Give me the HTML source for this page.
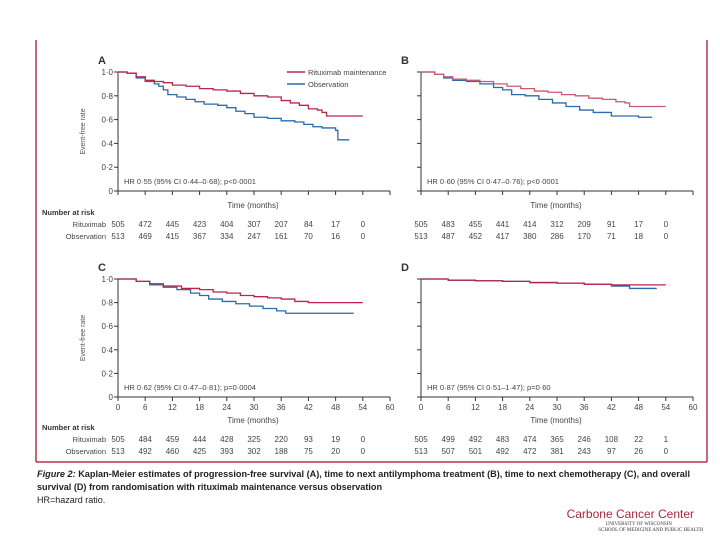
<!DOCTYPE html>
<html><head><meta charset="utf-8"><style>
body{margin:0;background:#fff;}
svg{display:block;font-family:"Liberation Sans",sans-serif;}
</style></head><body>
<svg id="c" width="720" height="540" viewBox="0 0 720 540">
<line x1="36" y1="40" x2="36" y2="462" stroke="#b5344f" stroke-width="1.5"/>
<line x1="707" y1="40" x2="707" y2="462" stroke="#b5344f" stroke-width="1.5"/>
<line x1="36" y1="462" x2="707" y2="462" stroke="#b5344f" stroke-width="1.5"/>
<g id="panels"></g>
<g font-size="9" fill="#222">
<text x="37" y="477" font-weight="bold" textLength="653" lengthAdjust="spacingAndGlyphs"><tspan font-style="italic">Figure 2:</tspan> Kaplan-Meier estimates of progression-free survival (A), time to next antilymphoma treatment (B), time to next chemotherapy (C), and overall</text>
<text x="37" y="490" font-weight="bold" textLength="345" lengthAdjust="spacingAndGlyphs">survival (D) from randomisation with rituximab maintenance versus observation</text>
<text x="37" y="503">HR=hazard ratio.</text>
</g>
<g>
<text x="694" y="518" text-anchor="end" font-size="12" fill="#a8283f">Carbone Cancer Center</text>
<text x="672" y="525" text-anchor="end" font-size="5" font-family="Liberation Serif,serif" fill="#333">UNIVERSITY OF WISCONSIN</text>
<text x="703" y="531" text-anchor="end" font-size="5" font-family="Liberation Serif,serif" fill="#333">SCHOOL OF MEDICINE AND PUBLIC HEALTH</text>
</g>
</svg>
<script>
const months=[0,6,12,18,24,30,36,42,48,54,60];
const yTicks=[0,0.2,0.4,0.6,0.8,1.0];
const yTickLabels=["0","0·2","0·4","0·6","0·8","1·0"];
const aRitT=[0,2,4,6,8,10,12,15,18,21,24,27,30,33,36,38,40,42,44,45,46,54];
const aRitS=[1,0.99,0.96,0.93,0.92,0.91,0.89,0.88,0.86,0.85,0.84,0.82,0.80,0.79,0.76,0.74,0.72,0.69,0.68,0.66,0.63,0.63];
const aObsT=[0,2,4,6,8,9,10,11,13,15,17,19,22,24,26,28,30,33,36,39,41,43,45,48,48.5,51];
const aObsS=[1,0.99,0.95,0.92,0.90,0.88,0.85,0.81,0.79,0.77,0.75,0.73,0.72,0.70,0.67,0.65,0.62,0.61,0.59,0.58,0.56,0.54,0.53,0.51,0.43,0.43];
const bRitT=[0,3,5,7,10,13,16,19,22,25,28,31,34,37,40,43,45,46,54];
const bRitS=[1,0.98,0.96,0.94,0.93,0.92,0.90,0.88,0.86,0.84,0.83,0.81,0.80,0.78,0.77,0.75,0.74,0.71,0.71];
const bObsT=[0,3,5,7,10,13,16,18,20,23,26,29,32,35,38,42,48,51];
const bObsS=[1,0.98,0.95,0.93,0.92,0.90,0.87,0.85,0.81,0.80,0.77,0.74,0.71,0.68,0.66,0.63,0.62,0.62];
const cRitT=[0,4,7,10,14,18,21,24,27,30,33,36,39,42,54];
const cRitS=[1,0.98,0.96,0.94,0.92,0.91,0.89,0.88,0.86,0.85,0.84,0.83,0.81,0.80,0.80];
const cObsT=[0,4,7,10,13,16,18,20,23,26,29,32,35,37,42,52];
const cObsS=[1,0.98,0.95,0.93,0.91,0.88,0.86,0.83,0.81,0.79,0.77,0.75,0.73,0.71,0.71,0.71];
const dRitT=[0,6,12,18,24,30,36,42,54];
const dRitS=[1,0.99,0.985,0.98,0.97,0.965,0.955,0.95,0.95];
const dObsT=[0,6,12,18,24,30,36,42,46,52];
const dObsS=[1,0.99,0.985,0.98,0.97,0.965,0.955,0.94,0.92,0.92];
const aRitN=[505,472,445,423,404,307,207,84,17,0];
const aObsN=[513,469,415,367,334,247,161,70,16,0];
const bRitN=[505,483,455,441,414,312,209,91,17,0];
const bObsN=[513,487,452,417,380,286,170,71,18,0];
const cRitN=[505,484,459,444,428,325,220,93,19,0];
const cObsN=[513,492,460,425,393,302,188,75,20,0];
const dRitN=[505,499,492,483,474,365,246,108,22,1];
const dObsN=[513,507,501,492,472,381,243,97,26,0];
const hrLabels=["HR 0·55 (95% CI 0·44–0·68); p<0·0001","HR 0·60 (95% CI 0·47–0·76); p<0·0001","HR 0·62 (95% CI 0·47–0·81); p=0·0004","HR 0·87 (95% CI 0·51–1·47); p=0·60"];

const NS="http://www.w3.org/2000/svg";
const root=document.getElementById('panels');
function mk(tag,attrs,parent,txt){const e=document.createElementNS(NS,tag);for(const k in attrs)e.setAttribute(k,attrs[k]);if(txt!==undefined)e.textContent=txt;parent.appendChild(e);return e;}
const RED="#b8264a",BLUE="#2a6aad";
const panels=[
 {L:"A",x0:118,y0:191,y1:72,rT:aRitT,rS:aRitS,oT:aObsT,oS:aObsS,rN:aRitN,oN:aObsN,ylab:true,xlab:false,rowLab:true,legend:true,hr:hrLabels[0],rc:RED},
 {L:"B",x0:421,y0:191,y1:72,rT:bRitT,rS:bRitS,oT:bObsT,oS:bObsS,rN:bRitN,oN:bObsN,ylab:false,xlab:false,rowLab:false,legend:false,hr:hrLabels[1],rc:"#c85a70"},
 {L:"C",x0:118,y0:397,y1:279,rT:cRitT,rS:cRitS,oT:cObsT,oS:cObsS,rN:cRitN,oN:cObsN,ylab:true,xlab:true,rowLab:true,legend:false,hr:hrLabels[2],rc:RED},
 {L:"D",x0:421,y0:397,y1:279,rT:dRitT,rS:dRitS,oT:dObsT,oS:dObsS,rN:dRitN,oN:dObsN,ylab:false,xlab:true,rowLab:false,legend:false,hr:hrLabels[3],rc:RED}
];
const W=272;
panels.forEach(p=>{
 const g=mk('g',{},root);
 
 
 const xs=m=>p.x0+m/60*W;
 const ys=v=>p.y0-v*(p.y0-p.y1);
 const t=mk('text',{x:p.x0-20,y:p.y1-8,'font-size':11,'font-weight':'bold',fill:'#333'},g,p.L);
 
 
 const ya=mk('line',{x1:p.x0,y1:p.y1,x2:p.x0,y2:p.y0,stroke:'#333','stroke-width':1},g);
 
 
 const xa=mk('line',{x1:p.x0-4,y1:p.y0,x2:p.x0+W,y2:p.y0,stroke:'#333','stroke-width':1},g);
 
 
 yTicks.forEach((v,i)=>{
  const tk=mk('line',{x1:p.x0-4,y1:ys(v),x2:p.x0,y2:ys(v),stroke:'#333'},g);
  
  
  if(p.ylab){const tl=mk('text',{x:p.x0-5,y:ys(v)+3,'font-size':8,'text-anchor':'end',fill:'#444'},g,yTickLabels[i]);
   
   }
 });
 months.forEach(m=>{
  const tk=mk('line',{x1:xs(m),y1:p.y0,x2:xs(m),y2:p.y0+4,stroke:'#333'},g);
  
  
  if(p.xlab){const tl=mk('text',{x:xs(m),y:p.y0+13,'font-size':8,'text-anchor':'middle',fill:'#444'},g,String(m));
   
   }
 });
 if(p.ylab){const yt=mk('text',{transform:`translate(${p.x0-33},${(p.y0+p.y1)/2}) rotate(-90)`,'font-size':7,'text-anchor':'middle',fill:'#555'},g,'Event-free rate');
  
  }
 const xt=mk('text',{x:p.x0+W/2-1,y:p.y0+(p.xlab?26:17),'font-size':8,'text-anchor':'middle',fill:'#444'},g,'Time (months)');
 
 
 const hr=mk('text',{x:p.x0+6,y:p.y0-7,'font-size':7.5,fill:'#444'},g,p.hr);
 
 
 function step(T,S){let d=`M${xs(T[0])},${ys(S[0])}`;for(let i=1;i<T.length;i++){d+=`H${xs(T[i])}V${ys(S[i])}`;}return d;}
 const ob=mk('path',{d:step(p.oT,p.oS),fill:'none',stroke:BLUE,'stroke-width':1.3},g);
 
 
 const rt=mk('path',{d:step(p.rT,p.rS),fill:'none',stroke:p.rc,'stroke-width':1.3},g);
 
 
 if(p.legend){
  const lg=mk('g',{},g);
  
  
  mk('line',{x1:287,y1:72,x2:305,y2:72,stroke:RED,'stroke-width':1.5},lg);
  mk('text',{x:308,y:75,'font-size':7.5,fill:'#444'},lg,'Rituximab maintenance');
  mk('line',{x1:287,y1:84,x2:305,y2:84,stroke:BLUE,'stroke-width':1.5},lg);
  mk('text',{x:308,y:87,'font-size':7.5,fill:'#444'},lg,'Observation');
 }
 const base=p.y0+(p.xlab?31:22);
 if(p.rowLab){
  const nr=mk('text',{x:42,y:base+2,'font-size':7.5,'font-weight':'bold',fill:'#333'},g,'Number at risk');
  
  
  const r1=mk('text',{x:106,y:base+14,'font-size':7.5,'text-anchor':'end',fill:'#444'},g,'Rituximab');
  
  
  const r2=mk('text',{x:106,y:base+26,'font-size':7.5,'text-anchor':'end',fill:'#444'},g,'Observation');
  
  
 }
 p.rN.forEach((n,i)=>{const e=mk('text',{x:xs(months[i]),y:base+14,'font-size':8,'text-anchor':'middle',fill:'#444'},g,String(n));
  
  });
 p.oN.forEach((n,i)=>{const e=mk('text',{x:xs(months[i]),y:base+26,'font-size':8,'text-anchor':'middle',fill:'#444'},g,String(n));
  
  });
});
</script>
</body></html>
